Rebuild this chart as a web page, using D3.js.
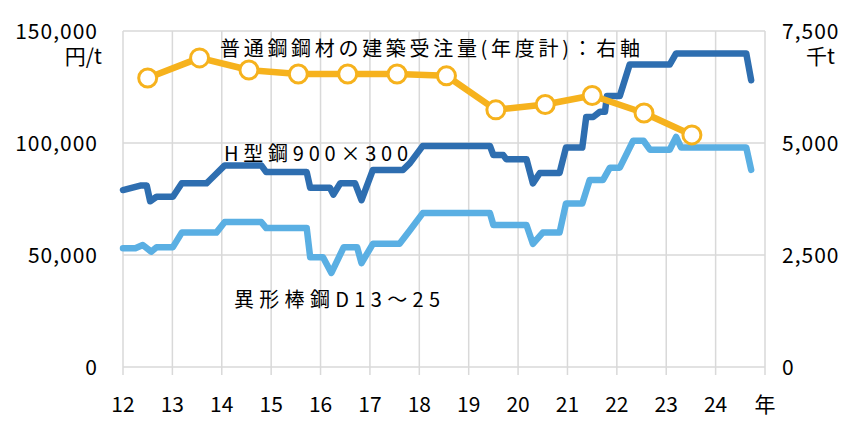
<!DOCTYPE html>
<html><head><meta charset="utf-8">
<script src="https://d3js.org/d3.v7.min.js"></script>
<style>body{margin:0;background:#fff}text{font-family:"Noto Sans CJK JP",sans-serif}</style>
</head><body>
<script>
  // H型鋼 (円/t)
  var hYears = [12.0,12.35,12.48,12.55,12.68,13.01,13.19,13.69,13.76,14.06,14.8,14.9,15.72,15.79,16.19,16.26,16.4,16.7,16.83,17.06,17.67,17.81,18.07,19.43,19.5,19.7,19.76,20.17,20.3,20.44,20.84,20.97,21.3,21.38,21.52,21.66,21.76,21.8,22.06,22.26,23.07,23.2,24.62,24.72];
  var hValues = [79000,81000,81000,74000,76000,76000,82000,82000,83500,90000,90000,87000,87000,80000,80000,77000,82000,82000,74500,88000,88000,91000,98700,98700,94600,94600,92800,92800,82000,86600,86600,98000,98000,111600,111600,114000,114000,121000,121000,135000,135000,140000,140000,128000];
  // 異形棒鋼 (円/t)
  var rYears = [12.0,12.25,12.4,12.57,12.68,13.01,13.19,13.89,14.06,14.8,14.9,15.72,15.79,16.05,16.22,16.47,16.74,16.83,17.06,17.6,17.81,18.07,19.43,19.5,20.17,20.3,20.5,20.84,20.97,21.3,21.45,21.72,21.86,22.06,22.33,22.54,22.67,23.07,23.2,23.3,24.62,24.72];
  var rValues = [53000,53000,54500,51500,53500,53500,60000,60000,64700,64700,62000,62000,49000,49000,42000,53500,53500,46400,55000,55000,61000,68700,68700,63400,63400,55000,60000,60000,73000,73000,83500,83500,89000,89000,101000,101000,97000,97000,102700,98000,98000,88000];
  // 普通鋼鋼材の建築受注量 (千t)
  var oYears = [12.5,13.55,14.55,15.55,16.55,17.55,18.55,19.55,20.55,21.5,22.55,23.52];
  var oValues = [6450,6900,6630,6540,6540,6540,6500,5740,5860,6060,5670,5180];
  var xTicks = [12,13,14,15,16,17,18,19,20,21,22,23,24];
  var yLeftTicks = [0,50000,100000,150000];
  var yRightTicks = [0,2500,5000,7500];

  var W = 864, H = 422;
  var svg = d3.select("body").append("svg").attr("width", W).attr("height", H);

  var x = d3.scaleLinear().domain([12, 25]).range([123, 765]);
  var yL = d3.scaleLinear().domain([0, 150000]).range([367, 31]);
  var yR = d3.scaleLinear().domain([0, 7500]).range([367, 31]);

  // grid
  svg.append("g").selectAll("line").data(d3.range(12, 26)).enter().append("line")
    .attr("x1", d => x(d)).attr("x2", d => x(d)).attr("y1", yL(150000)).attr("y2", yL(0) + 8)
    .attr("stroke", "#d9d9d9").attr("stroke-width", 1.5);
  svg.append("g").selectAll("line").data(yLeftTicks).enter().append("line")
    .attr("x1", x(12)).attr("x2", x(25)).attr("y1", d => yL(d)).attr("y2", d => yL(d))
    .attr("stroke", "#d9d9d9").attr("stroke-width", 1.5);

  // axis labels
  var fmt = d3.format(",");
  svg.append("g").selectAll("text").data(yLeftTicks).enter().append("text")
    .attr("x", 98).attr("y", d => yL(d) + 8).attr("text-anchor", "end")
    .attr("font-size", 21).attr("letter-spacing", 1).text(d => fmt(d));
  svg.append("g").selectAll("text").data(yRightTicks).enter().append("text")
    .attr("x", 782).attr("y", d => yR(d) + 8)
    .attr("font-size", 21).attr("letter-spacing", 1).text(d => fmt(d));
  svg.append("g").selectAll("text").data(xTicks).enter().append("text")
    .attr("x", d => x(d)).attr("y", 412).attr("text-anchor", "middle")
    .attr("font-size", 21).text(d => d);
  svg.append("text").attr("x", x(25)).attr("y", 412).attr("text-anchor", "middle").attr("font-size", 21).text("年");
  svg.append("text").attr("x", 102).attr("y", 64).attr("text-anchor", "end").attr("font-size", 21).text("円/t");
  svg.append("text").attr("x", 806).attr("y", 64).attr("font-size", 21).text("千t");

  function drawLine(xs, vs, y, color) {
    var pts = xs.map((d, i) => [d, vs[i]]);
    svg.append("path").datum(pts)
      .attr("d", d3.line().x(d => x(d[0])).y(d => y(d[1])))
      .attr("fill", "none").attr("stroke", color).attr("stroke-width", 6.5)
      .attr("stroke-linejoin", "round").attr("stroke-linecap", "round");
    return pts;
  }
  drawLine(rYears, rValues, yL, "#5aafe3");
  drawLine(hYears, hValues, yL, "#2e6eb0");
  var op = drawLine(oYears, oValues, yR, "#f6b21d");
  svg.append("g").selectAll("circle").data(op).enter().append("circle")
    .attr("cx", d => x(d[0])).attr("cy", d => yR(d[1])).attr("r", 9)
    .attr("fill", "#fff").attr("stroke", "#f6b21d").attr("stroke-width", 3);

  svg.append("text").attr("x", 220).attr("y", 56).attr("font-size", 20)
    .attr("textLength", 420).attr("lengthAdjust", "spacing").text("普通鋼鋼材の建築受注量(年度計)：右軸");
  svg.append("text").attr("x", 224).attr("y", 161).attr("font-size", 20)
    .attr("textLength", 184).attr("lengthAdjust", "spacing").text("H型鋼900×300");
  svg.append("text").attr("x", 234).attr("y", 307).attr("font-size", 20)
    .attr("textLength", 206).attr("lengthAdjust", "spacing").text("異形棒鋼D13～25");
</script>
</body></html>
